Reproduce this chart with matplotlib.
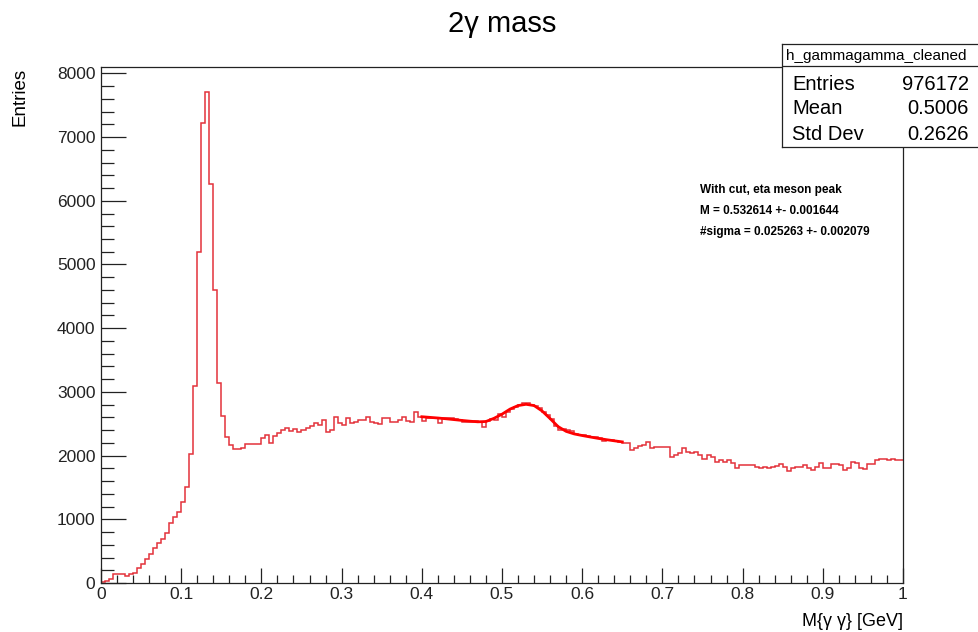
import numpy as np
import matplotlib
matplotlib.use('Agg')
import matplotlib.pyplot as plt
from matplotlib.ticker import MultipleLocator, FixedLocator, FixedFormatter

plt.rcParams['font.family'] = ['Liberation Sans', 'DejaVu Sans']

# histogram h_gammagamma_cleaned : 200 bins on [0, 1]
x_min, x_max, n_bins = 0.0, 1.0, 200
counts = [
    # 0.000 - 0.115
    10, 32, 63, 142, 142, 142, 116, 142, 158, 232, 300, 379, 463, 553, 621, 695,
    789, 937, 1042, 1116, 1274, 1500, 2026, 3100,
    # 0.120 - 0.175 (pi0 peak)
    5196, 7217, 7714, 6265, 4603, 3132, 2619, 2295, 2160, 2104, 2110, 2120,
    # 0.180 - 0.195
    2180, 2180, 2185, 2185,
    # 0.200 - 0.310
    2270, 2317, 2191, 2312, 2348, 2400, 2427, 2385, 2411, 2374, 2400, 2437,
    2463, 2505, 2479, 2557, 2374, 2400, 2609, 2505, 2479, 2594, 2505,
    # 0.315 - 0.395
    2521, 2557, 2557, 2609, 2531, 2515, 2489, 2583, 2583, 2521, 2521, 2557,
    2609, 2546, 2521, 2677, 2609,
    # 0.400 - 0.475
    2540, 2583, 2583, 2583, 2505, 2583, 2583, 2590, 2570, 2560, 2531, 2531,
    2531, 2540, 2531, 2452,
    # 0.480 - 0.645 (eta peak)
    2540, 2580, 2560, 2650, 2600, 2690, 2730, 2760, 2790, 2830, 2830, 2790,
    2780, 2740, 2690, 2640, 2570, 2470, 2400, 2410, 2400, 2380, 2345, 2330,
    2320, 2305, 2295, 2285, 2275, 2230, 2240, 2240, 2235, 2215,
    # 0.650 - 0.815
    2201, 2201, 2086, 2113, 2150, 2165, 2207, 2113, 2139, 2139, 2139, 2139,
    1981, 2008, 2044, 2113, 2060, 2034, 2060, 2008, 1940, 2008, 1981, 1902,
    1929, 1902, 1929, 1876, 1809, 1860, 1860, 1860, 1850, 1824,
    # 0.820 - 0.995
    1809, 1825, 1798, 1825, 1840, 1861, 1825, 1756, 1798, 1825, 1825, 1850,
    1798, 1772, 1825, 1882, 1798, 1798, 1871, 1861, 1850, 1772, 1798, 1893,
    1882, 1798, 1785, 1861, 1861, 1929, 1944, 1944, 1935, 1950, 1935, 1930,
]

# fit curve (eta meson peak)
fit_x = [0.40, 0.41, 0.42, 0.43, 0.44, 0.45, 0.46, 0.47, 0.48, 0.49, 0.50,
         0.51, 0.52, 0.53, 0.54, 0.55, 0.56, 0.57, 0.58, 0.59, 0.60, 0.61,
         0.62, 0.63, 0.64, 0.65]
fit_y = [2610, 2600, 2590, 2578, 2565, 2552, 2540, 2530, 2535, 2585, 2650,
         2730, 2785, 2805, 2785, 2700, 2580, 2455, 2380, 2340, 2315, 2292,
         2270, 2250, 2232, 2215]

stats_name = 'h_gammagamma_cleaned'
stats_rows = [('Entries', '976172'), ('Mean', '0.5006'), ('Std Dev', '0.2626')]
fit_text = ['With cut, eta meson peak',
            'M = 0.532614 +- 0.001644',
            '#sigma = 0.025263 +- 0.002079']

x_ticks = [0.0, 0.1, 0.2, 0.3, 0.4, 0.5, 0.6, 0.7, 0.8, 0.9, 1.0]
x_tick_labels = ['0', '0.1', '0.2', '0.3', '0.4', '0.5', '0.6', '0.7', '0.8', '0.9', '1']
y_ticks = [0, 1000, 2000, 3000, 4000, 5000, 6000, 7000, 8000]

W, H = 979, 632
fig = plt.figure(figsize=(W / 100, H / 100), dpi=100)
ax = fig.add_axes([101 / W, 1 - 583 / H, (903 - 101) / W, (583 - 67) / H])

edges = np.linspace(x_min, x_max, n_bins + 1)
ax.stairs(counts, edges, color='#e3323a', lw=1.1, baseline=None)
ax.plot(fit_x, fit_y, color='#ff0000', lw=2.0, zorder=3)

ax.set_xlim(x_min, x_max)
ax.set_ylim(0, 1.05 * max(counts))

ax.xaxis.set_major_locator(FixedLocator(x_ticks))
ax.xaxis.set_major_formatter(FixedFormatter(x_tick_labels))
ax.xaxis.set_minor_locator(MultipleLocator(0.02))
ax.yaxis.set_major_locator(FixedLocator(y_ticks))
ax.yaxis.set_minor_locator(MultipleLocator(200))

ax.tick_params(axis='both', which='both', direction='in', colors='#222222',
               labelsize=12.5, width=0.9, top=False, right=False)
ax.tick_params(axis='y', which='major', length=18, pad=4)
ax.tick_params(axis='y', which='minor', length=9)
ax.tick_params(axis='x', which='major', length=11, pad=3)
ax.tick_params(axis='x', which='minor', length=5.5)
for s in ax.spines.values():
    s.set_color('#222222')
    s.set_linewidth(0.9)
    s.set_zorder(4)

fig.text(502 / W, 1 - 24 / H, '2\u03b3 mass', ha='center', va='center', fontsize=21)
fig.text(903 / W, 1 - 622 / H, 'M{\u03b3 \u03b3} [GeV]', ha='right', va='center', fontsize=13)
fig.text(20 / W, 1 - 68 / H, 'Entries', ha='center', va='top', rotation=90, fontsize=13.5)

# fit annotation
for i, line in enumerate(fit_text):
    fig.text(700 / W, 1 - (190 + 21 * i) / H, line, ha='left', va='center',
             fontsize=8.5, fontweight='bold')

# stats box
box = fig.add_axes([782 / W, 1 - 147 / H, 220 / W, (147 - 44) / H])
box.set_xlim(0, 1)
box.set_ylim(0, 1)
box.set_xticks([])
box.set_yticks([])
box.set_facecolor('white')
for s in box.spines.values():
    s.set_color('#222222')
    s.set_linewidth(0.9)
sep = (147 - 66) / (147 - 44)
box.axhline(sep, color='#222222', lw=0.9)
fig.text(876 / W, 1 - 56 / H, stats_name, ha='center', va='center', fontsize=11)
for i, (k, v) in enumerate(stats_rows):
    yy = 1 - (84 + 25 * i) / H
    fig.text(792 / W, yy, k, ha='left', va='center', fontsize=14.5)
    fig.text(969 / W, yy, v, ha='right', va='center', fontsize=14.5)

fig.savefig('out.png', dpi=100, facecolor='white')
